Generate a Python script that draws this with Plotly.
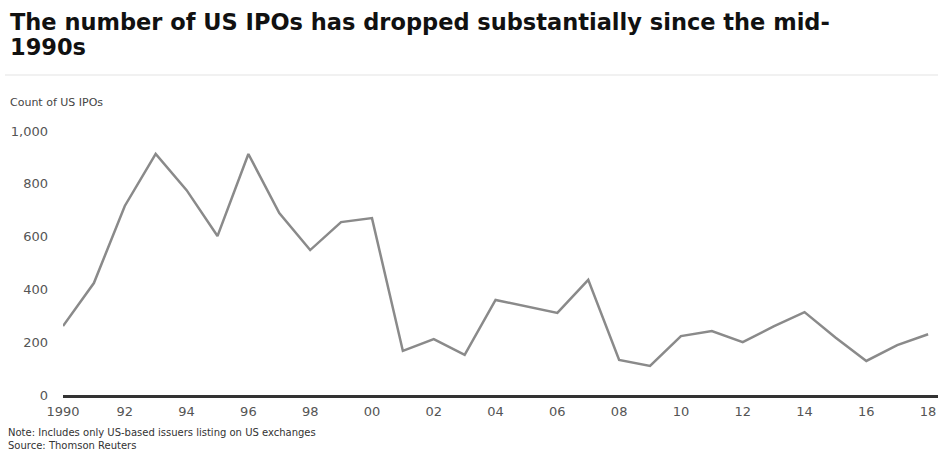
import plotly.graph_objects as go

years = list(range(1990, 2019))
ipo_counts = [261, 424, 716, 913, 776, 602, 913, 689, 549, 655, 670,
              167, 212, 152, 360, 336, 311, 436, 133, 110, 223, 242,
              200, 260, 314, 218, 129, 189, 230]
x_tickvals = list(range(1990, 2019, 2))
x_ticktext = ["1990", "92", "94", "96", "98", "00", "02", "04", "06", "08",
              "10", "12", "14", "16", "18"]
y_tickvals = [0, 200, 400, 600, 800, 1000]
y_ticktext = ["0", "200", "400", "600", "800", "1,000"]

title_lines = ["The number of US IPOs has dropped substantially since the mid-",
               "1990s"]
subtitle_text = "Count of US IPOs"
note_lines = ["Note: Includes only US-based issuers listing on US exchanges",
              "Source: Thomson Reuters"]

H_PLOT = 264.0
W_PLOT = 875.0


def py(pix_from_top):
    return (452 - 57 - pix_from_top) / H_PLOT


def px(pix_from_left):
    return (pix_from_left - 63) / W_PLOT


small_font = "DejaVu Sans, Verdana, sans-serif"

fig = go.Figure()
fig.add_trace(go.Scatter(
    x=years, y=ipo_counts, mode="lines",
    line=dict(color="#8a8a8a", width=2.5),
    hoverinfo="x+y", showlegend=False,
))

annotations = []
for i, line in enumerate(title_lines):
    annotations.append(dict(
        text="<b>" + line + "</b>", xref="paper", yref="paper",
        x=px(8), y=py(22 + 25 * i), xanchor="left", yanchor="middle",
        align="left", showarrow=False,
        font=dict(family=small_font, size=22.5, color="#111")))
annotations.append(dict(
    text=subtitle_text, xref="paper", yref="paper",
    x=px(8), y=py(94), xanchor="left", yanchor="top",
    align="left", showarrow=False,
    font=dict(family=small_font, size=11, color="#444")))
annotations.append(dict(
    text="<br>".join(note_lines), xref="paper", yref="paper",
    x=px(7), y=py(452), xanchor="left", yanchor="bottom",
    align="left", showarrow=False, borderpad=0,
    font=dict(family=small_font, size=10, color="#333")))

fig.update_layout(
    width=938, height=452,
    margin=dict(l=63, r=0, t=131, b=57),
    paper_bgcolor="white", plot_bgcolor="white",
    font=dict(family=small_font, color="#555"),
    xaxis=dict(
        range=[1990, 2018.32], tickmode="array",
        tickvals=x_tickvals, ticktext=x_ticktext,
        showgrid=False, zeroline=False,
        showline=True, linecolor="#333", linewidth=2.5,
        ticks="", ticklabelstandoff=3,
        tickfont=dict(size=13, color="#555"),
    ),
    yaxis=dict(
        range=[0, 1000], tickmode="array",
        tickvals=y_tickvals, ticktext=y_ticktext,
        showgrid=False, zeroline=False, showline=False,
        ticks="", ticklabelstandoff=14,
        tickfont=dict(size=13, color="#555"),
    ),
    shapes=[dict(type="line", xref="paper", yref="paper",
                 x0=px(5), x1=1.0, y0=py(75), y1=py(75),
                 line=dict(color="#e3e3e3", width=1))],
    annotations=annotations,
)

fig.write_html("out.html")
